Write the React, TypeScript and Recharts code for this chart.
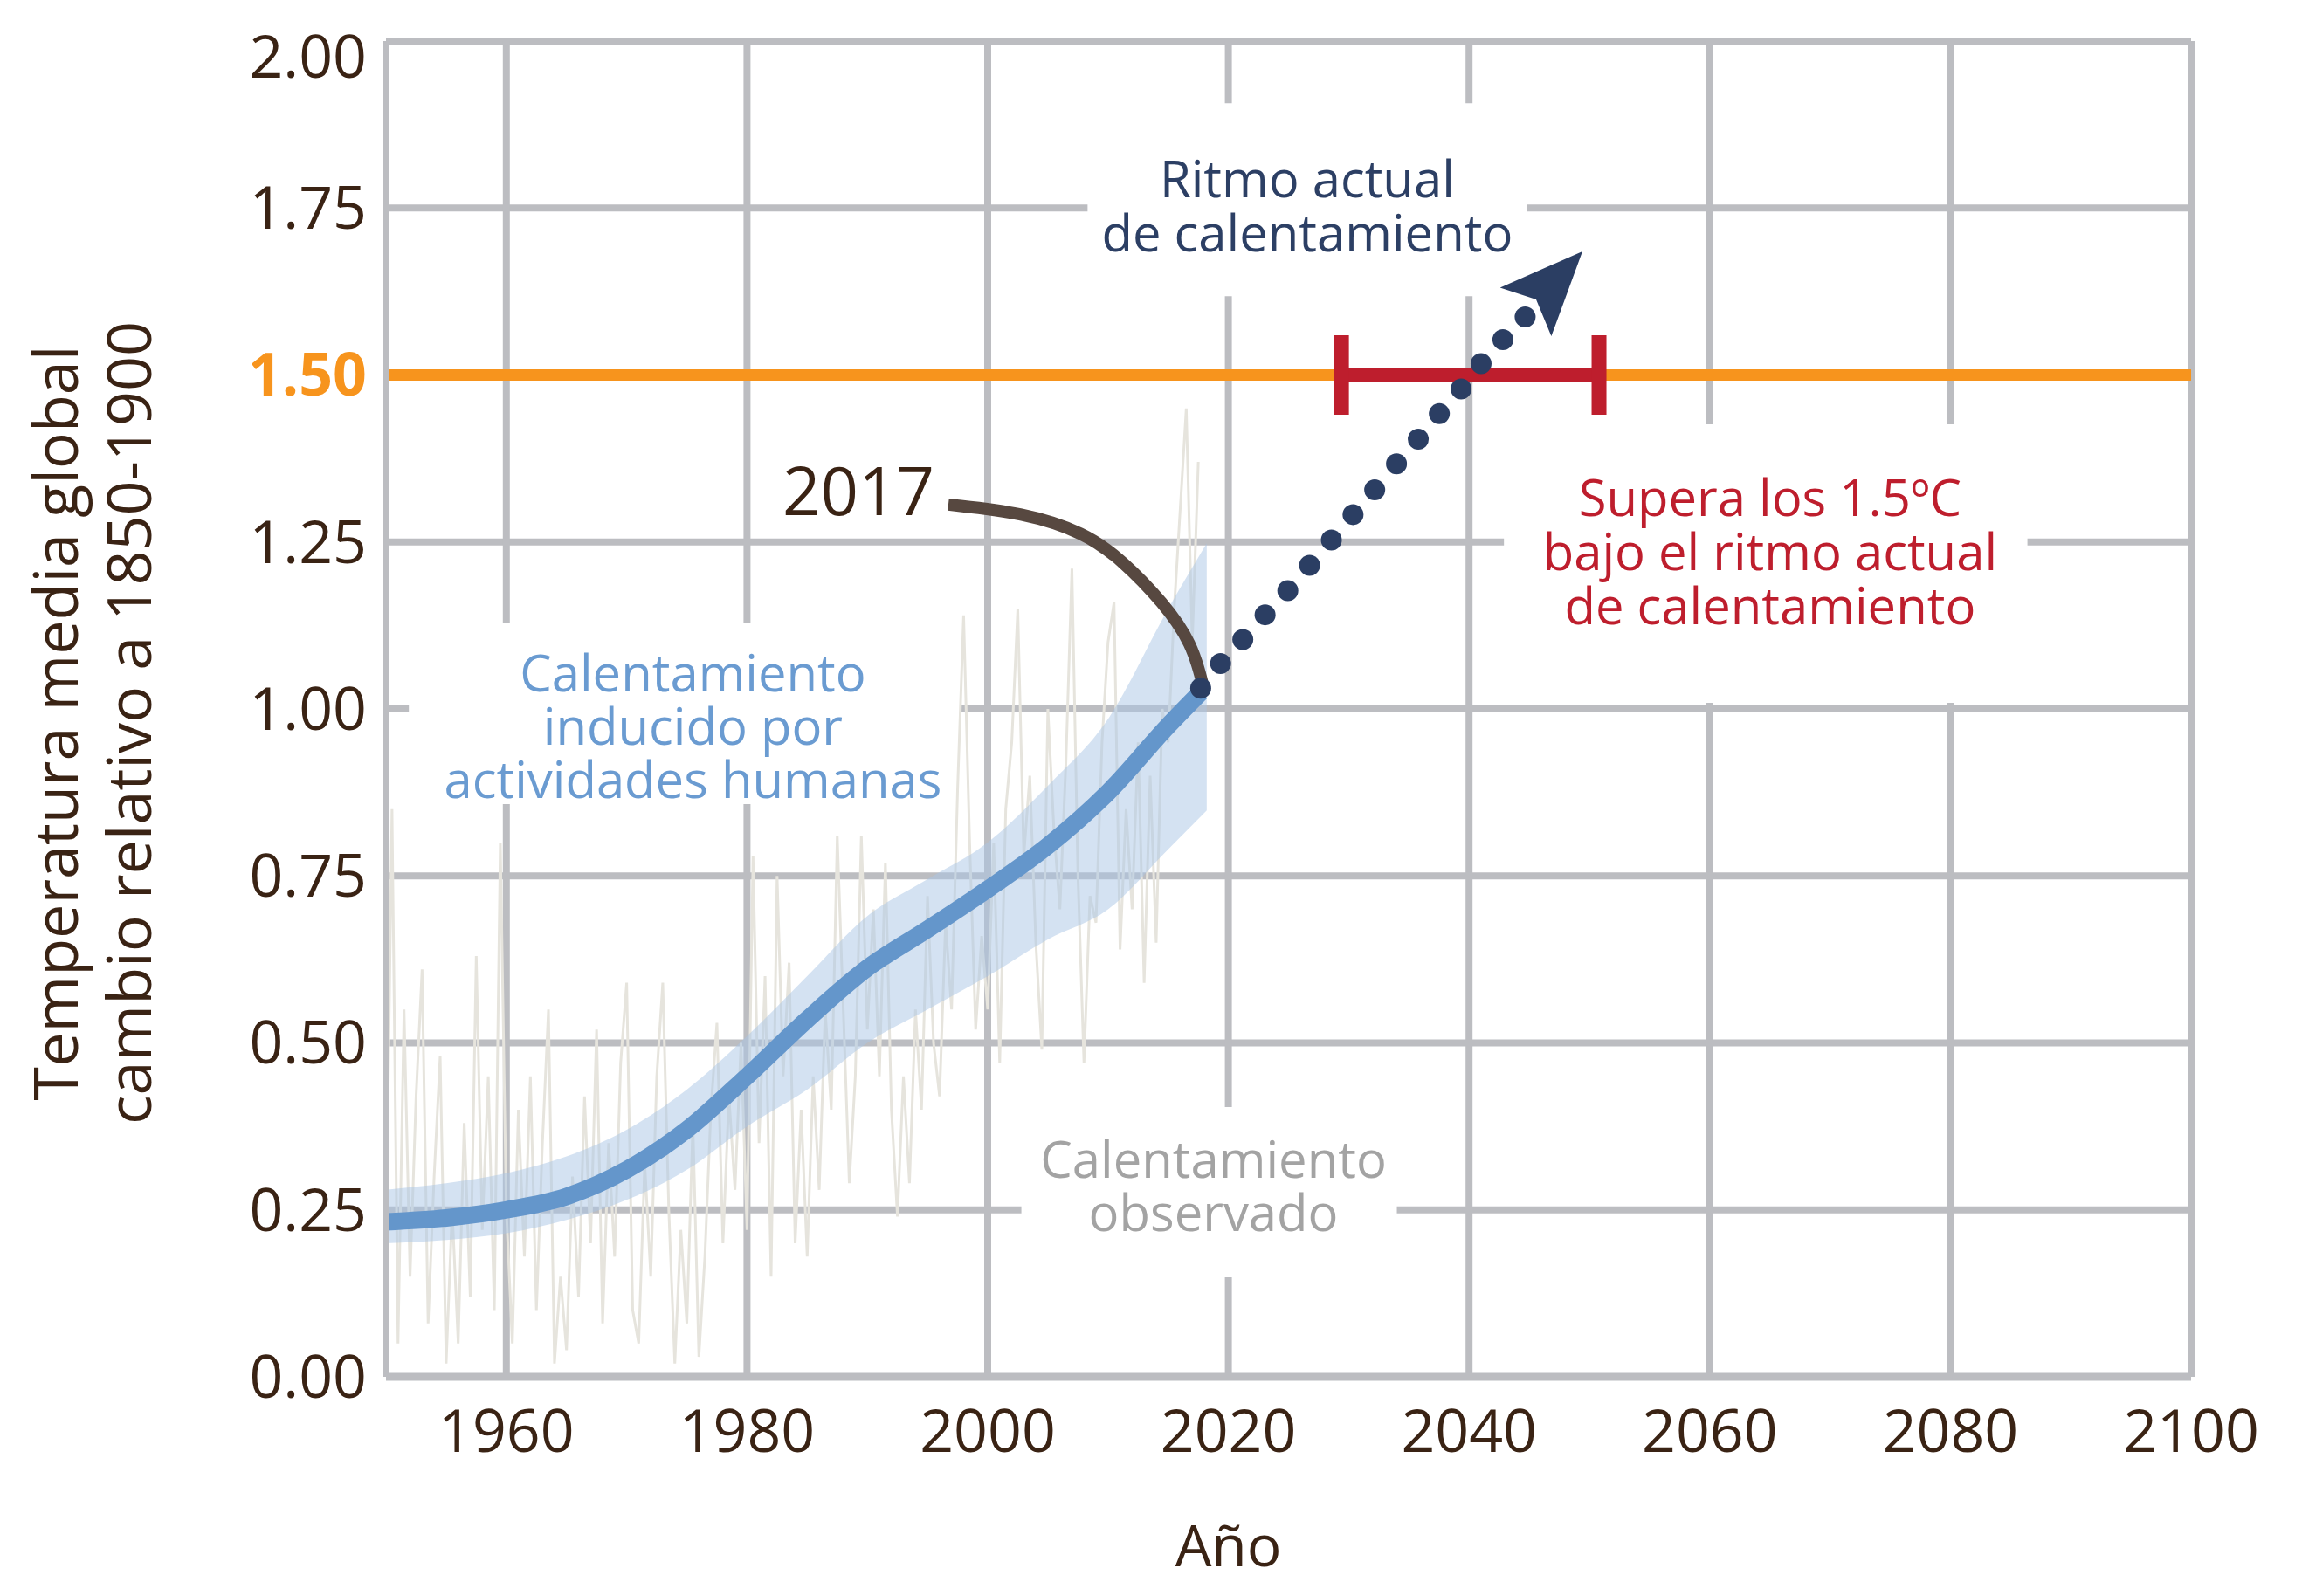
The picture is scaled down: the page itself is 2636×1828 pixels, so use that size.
import React from 'react';
import {
  ComposedChart,
  Line,
  Area,
  Scatter,
  XAxis,
  YAxis,
  CartesianGrid,
  ReferenceLine,
  ReferenceArea,
  ReferenceDot,
} from 'recharts';

const FONT = '"Open Sans", "Noto Sans", sans-serif';

// axes
const xDomain = [1950, 2100];
const xTicks = [1960, 1980, 2000, 2020, 2040, 2060, 2080, 2100];
const yTicks = [0, 0.25, 0.5, 0.75, 1, 1.25, 1.5, 1.75, 2];
const threshold = 1.5;

// observed warming (grey), one value every half year from 1950
const observedStart = 1950;
const observedValues = [
  0.2, 0.85, 0.05, 0.55, 0.15, 0.42, 0.61, 0.08, 0.3, 0.48,
  0.02, 0.25, 0.05, 0.38, 0.12, 0.63, 0.22, 0.45, 0.1, 0.8,
  0.25, 0.05, 0.4, 0.18, 0.45, 0.1, 0.35, 0.55, 0.02, 0.15,
  0.04, 0.3, 0.12, 0.42, 0.2, 0.52, 0.08, 0.35, 0.18, 0.47,
  0.59, 0.1, 0.05, 0.32, 0.15, 0.45, 0.59, 0.25, 0.02, 0.22,
  0.08, 0.38, 0.03, 0.18, 0.4, 0.53, 0.2, 0.42, 0.28, 0.5,
  0.22, 0.78, 0.35, 0.6, 0.15, 0.75, 0.45, 0.62, 0.2, 0.4,
  0.18, 0.45, 0.28, 0.55, 0.4, 0.81, 0.55, 0.29, 0.45, 0.81,
  0.52, 0.7, 0.45, 0.77, 0.4, 0.24, 0.45, 0.29, 0.55, 0.4,
  0.72, 0.5, 0.42, 0.68, 0.55, 0.88, 1.14, 0.8, 0.52, 0.66,
  0.55, 0.8, 0.47, 0.85, 0.95, 1.15, 0.78, 0.9, 0.65, 0.49,
  1.0, 0.82, 0.7, 0.92, 1.21, 0.75, 0.47, 0.72, 0.68, 0.95,
  1.1, 1.16, 0.64, 0.85, 0.7, 0.95, 0.59, 0.9, 0.65, 1.0,
  0.95, 1.15, 1.3, 1.45, 1.1, 1.37,
];

// human-induced warming (blue line) and its likely range (band)
const humanYears = [1950, 1955, 1960, 1965, 1970, 1975, 1980, 1985, 1990, 1995, 2000, 2005, 2010, 2015, 2017.7];
const humanValues = [0.232, 0.238, 0.25, 0.27, 0.31, 0.37, 0.45, 0.535, 0.612, 0.67, 0.73, 0.795, 0.875, 0.975, 1.025];
const bandYears = [1950, 1955, 1960, 1965, 1970, 1975, 1980, 1985, 1990, 1995, 2000, 2005, 2010, 2015, 2018.2];
const bandLow = [0.2, 0.205, 0.215, 0.235, 0.265, 0.31, 0.375, 0.43, 0.5, 0.55, 0.6, 0.655, 0.7, 0.79, 0.848];
const bandHigh = [0.28, 0.29, 0.305, 0.33, 0.37, 0.43, 0.51, 0.6, 0.69, 0.745, 0.8, 0.885, 0.985, 1.15, 1.248];

// current rate of warming (dotted projection)
const rateYears = [2017.7, 2019.35, 2021.2, 2023.05, 2024.94, 2026.75, 2028.56, 2030.36, 2032.16, 2033.97, 2035.78, 2037.53, 2039.34, 2041.0, 2042.81, 2044.66];
const rateValues = [1.031, 1.068, 1.104, 1.141, 1.177, 1.215, 1.253, 1.291, 1.328, 1.367, 1.404, 1.442, 1.479, 1.517, 1.553, 1.587];
const arrowYear = 2049.42;
const arrowValue = 1.685;

// range of years when 1.5 is crossed
const rangeYears = [2029.4, 2050.8];

// leader curve from the "2017" tag
const leaderYears = [1996.73, 2002.98, 2008.05, 2011.1, 2014.66, 2016.98, 2017.85];
const leaderValues = [1.306, 1.294, 1.264, 1.224, 1.158, 1.098, 1.038];

// text boxes: [x1, x2, y1, y2]
const inducedBox = [1951.9, 1997.8, 0.8575, 1.1294];
const observedBox = [2002.8, 2034.0, 0.149, 0.4039];
const rateBox = [2008.3, 2044.8, 1.618, 1.907];
const exceedBox = [2042.9, 2086.4, 1.009, 1.426];

const observedData = observedValues.map((v, i) => ({ year: observedStart + i * 0.5, value: v }));
const humanData = humanYears.map((y, i) => ({ year: y, value: humanValues[i] }));
const bandData = bandYears.map((y, i) => ({ year: y, range: [bandLow[i], bandHigh[i]] }));
const rateData = rateYears.map((y, i) => ({ year: y, value: rateValues[i] }));
const arrowData = [{ year: arrowYear, value: arrowValue }];
const rangeData = rangeYears.map((y) => ({ year: y, value: threshold }));
const leaderData = leaderYears.map((y, i) => ({ year: y, value: leaderValues[i] }));

const GRID = '#bcbdc1';
const TEXT = '#3a2314';

const YTick = (props: any) => {
    const { x, y, payload } = props;
    const hot = payload.value === threshold;
    const top = payload.value === yTicks[yTicks.length - 1];
    return (
        <text
            x={x}
            y={y + (top ? 18 : 0)}
            dy="0.35em"
            textAnchor="end"
            fontFamily={FONT}
            fontSize={68}
            fontWeight={hot ? 700 : 400}
            fill={hot ? '#f7941d' : TEXT}
        >
            {payload.value.toFixed(2)}
        </text>
    );
};

const XTick = (props: any) => {
    const { x, y, payload } = props;
    return (
        <text x={x} y={y + 86} textAnchor="middle" fontFamily={FONT} fontSize={68} fill={TEXT}>
            {payload.value}
        </text>
    );
};

const AnnoText = (props: any) => {
    const { viewBox, lines, color, first, step, dx = 0 } = props;
    const cx = viewBox.x + viewBox.width / 2 + dx;
    return (
        <text textAnchor="middle" fill={color} fontFamily={FONT} fontSize={58}>
            {lines.map((l: string, i: number) => (
                <tspan key={i} x={cx} y={viewBox.y + first + i * step}>
                    {l}
                </tspan>
            ))}
        </text>
    );
};

const YearTag = (props: any) => {
    const { viewBox } = props;
    return (
        <text x={viewBox.x - 16} y={viewBox.y + 12} textAnchor="end" fontFamily={FONT} fontSize={76} fill={TEXT}>
            2017
        </text>
    );
};

const YTitle = (props: any) => {
    const { viewBox } = props;
    const cy = viewBox.y + viewBox.height / 2 + 16;
    const x1 = viewBox.x + 89;
    const x2 = viewBox.x + 173;
    return (
        <g fontFamily={FONT} fontSize={70} fill={TEXT} textAnchor="middle">
            <text x={x1} y={cy} transform={`rotate(-90 ${x1} ${cy})`}>Temperatura media global</text>
            <text x={x2} y={cy} transform={`rotate(-90 ${x2} ${cy})`}>cambio relativo a 1850-1900</text>
        </g>
    );
};

const XTitle = (props: any) => {
    const { viewBox } = props;
    const at = (2020 - xDomain[0]) / (xDomain[1] - xDomain[0]);
    return (
        <text x={viewBox.x + viewBox.width * at} y={viewBox.y + 217} textAnchor="middle" fontFamily={FONT} fontSize={66} fill={TEXT}>
            Año
        </text>
    );
};

const RangeCap = (props: any) => {
    const { cx, cy } = props;
    return <rect x={cx - 8.5} y={cy - 45.5} width={17} height={91} fill="#be1e2d" />;
};

const RateDot = (props: any) => {
    const { cx, cy } = props;
    return <circle cx={cx} cy={cy} r={12} fill="#2b3e63" />;
};

const ArrowHead = (props: any) => {
    const { cx, cy } = props;
    const pts = [[0, 0], [-94.3, 41.5], [-53, 55], [-35.6, 97]]
        .map(([dx, dy]) => `${cx + dx},${cy + dy}`)
        .join(' ');
    return <polygon points={pts} fill="#2b3e63" />;
};

export default function App() {
    return (
        <div style={{ position: 'absolute', left: 0, top: 0, width: 2636, height: 1828, background: '#fff' }}>
            <ComposedChart width={2636} height={1828} margin={{ top: 47, right: 127, bottom: 0, left: 0 }}>
                <CartesianGrid stroke={GRID} strokeWidth={8} />
                <ReferenceLine y={threshold} stroke="#f7941d" strokeWidth={13} />

                <ReferenceArea x1={inducedBox[0]} x2={inducedBox[1]} y1={inducedBox[2]} y2={inducedBox[3]}
                    fill="#fff" fillOpacity={1} stroke="none"
                    label={<AnnoText lines={['Calentamiento', 'inducido por', 'actividades humanas']} color="#6a9bd1" first={79} step={61} dx={9} />} />
                <ReferenceArea x1={observedBox[0]} x2={observedBox[1]} y1={observedBox[2]} y2={observedBox[3]}
                    fill="#fff" fillOpacity={1} stroke="none"
                    label={<AnnoText lines={['Calentamiento', 'observado']} color="#a3a3a3" first={81} step={61} dx={5} />} />
                <ReferenceArea x1={rateBox[0]} x2={rateBox[1]} y1={rateBox[2]} y2={rateBox[3]}
                    fill="#fff" fillOpacity={1} stroke="none"
                    label={<AnnoText lines={['Ritmo actual', 'de calentamiento']} color="#2c3f64" first={108} step={62} />} />
                <ReferenceArea x1={exceedBox[0]} x2={exceedBox[1]} y1={exceedBox[2]} y2={exceedBox[3]}
                    fill="#fff" fillOpacity={1} stroke="none"
                    label={<AnnoText lines={['Supera los 1.5ºC', 'bajo el ritmo actual', 'de calentamiento']} color="#be1e2d" first={105} step={62} dx={5} />} />

                <Area data={observedData} dataKey="value" type="linear" stroke="#e6e4dd" strokeWidth={3}
                    fill="none" activeDot={false} isAnimationActive={false} />
                <Area data={bandData} dataKey="range" type="monotone" stroke="none" fill="#a9c5e6" fillOpacity={0.5}
                    activeDot={false} isAnimationActive={false} />
                <Line data={humanData} dataKey="value" type="monotone" stroke="#6496cb" strokeWidth={20}
                    dot={false} activeDot={false} isAnimationActive={false} />
                <Line data={leaderData} dataKey="value" type="basis" stroke="#574840" strokeWidth={14}
                    dot={false} activeDot={false} isAnimationActive={false} />
                <Line data={rangeData} dataKey="value" type="linear" stroke="#be1e2d" strokeWidth={16}
                    dot={<RangeCap />} activeDot={false} isAnimationActive={false} />
                <Scatter data={rateData} dataKey="value" shape={<RateDot />} isAnimationActive={false} />
                <Scatter data={arrowData} dataKey="value" shape={<ArrowHead />} isAnimationActive={false} />

                <ReferenceDot x={leaderYears[0]} y={leaderValues[0]} r={0} fill="none" stroke="none" label={<YearTag />} />

                <XAxis dataKey="year" type="number" domain={xDomain} ticks={xTicks} allowDataOverflow
                    height={251} tickSize={0} tickMargin={0} tickLine={false}
                    axisLine={{ stroke: GRID, strokeWidth: 9 }} tick={<XTick />} label={<XTitle />} />
                <YAxis type="number" domain={[0, 2]} ticks={yTicks} allowDataOverflow
                    width={442} tickSize={0} tickMargin={22} tickLine={false}
                    axisLine={{ stroke: GRID, strokeWidth: 8 }} tick={<YTick />} label={<YTitle />} />
            </ComposedChart>
        </div>
    );
}
